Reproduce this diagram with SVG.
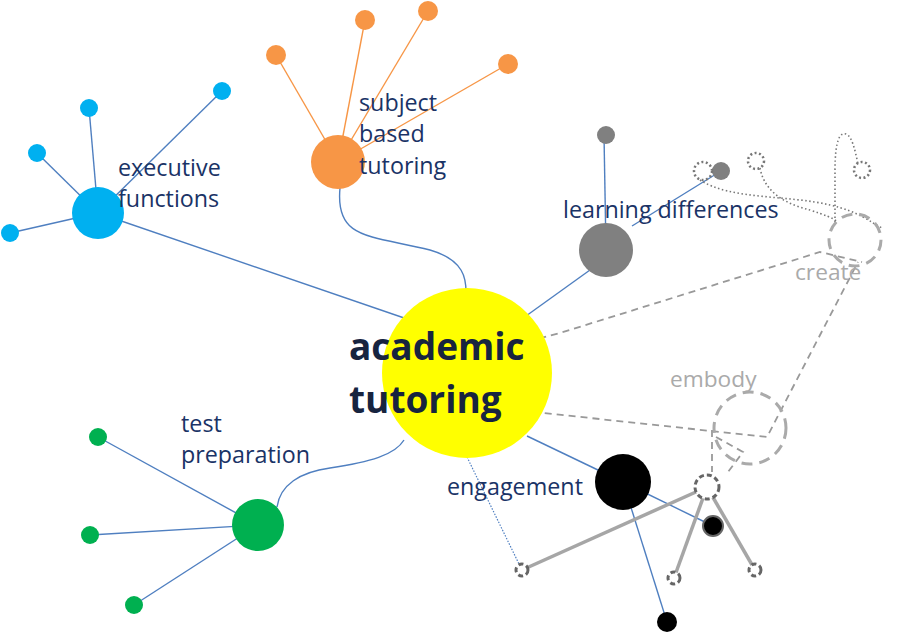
<svg xmlns="http://www.w3.org/2000/svg" width="900" height="635" viewBox="0 0 900 635">
<style>
.lbl{font-family:"Open Sans","Liberation Sans",sans-serif;font-size:23.3px;fill:#1a3366}
.ghost{font-family:"Open Sans","Liberation Sans",sans-serif;font-size:22.7px;fill:#aaaaaa}
.main{font-family:"Open Sans","Liberation Sans",sans-serif;font-size:37px;font-weight:bold;fill:#17243f}
.bl{stroke:#4f7fc0;stroke-width:1.4;fill:none}
.or{stroke:#f79646;stroke-width:1.4;fill:none}
.dash{stroke:#999;stroke-width:1.8;stroke-dasharray:7 5;fill:none}
.dot{stroke:#777;stroke-width:1.6;stroke-dasharray:1.5 2.5;fill:none}
.gl{stroke:#a6a6a6;stroke-width:3.5;fill:none}
.dc{fill:#fff;stroke:#666;stroke-width:3;stroke-dasharray:5 3}
.bigdash{fill:none;stroke:#aaa;stroke-width:3;stroke-dasharray:11 7}
</style>
<g id="connectors">
  <line class="bl" x1="98" y1="213" x2="89" y2="108"/>
  <line class="bl" x1="98" y1="213" x2="222" y2="91"/>
  <line class="bl" x1="98" y1="213" x2="37" y2="153"/>
  <line class="bl" x1="98" y1="213" x2="10" y2="233"/>
  <line class="bl" x1="98" y1="213" x2="410" y2="320"/>
  <line class="or" x1="338" y1="162" x2="276" y2="55"/>
  <line class="or" x1="338" y1="162" x2="365" y2="20"/>
  <line class="or" x1="338" y1="162" x2="428" y2="11"/>
  <line class="or" x1="338" y1="162" x2="508" y2="64"/>
  <path class="bl" d="M340,188 C335,240 370,235 430,250 C465,260 466,280 466,292"/>
  <line class="bl" x1="606" y1="250" x2="604" y2="135"/>
  <line class="bl" x1="632" y1="226" x2="721" y2="171"/>
  <line class="bl" x1="526" y1="316" x2="590" y2="270"/>
  <line class="bl" x1="258" y1="525" x2="98" y2="437"/>
  <line class="bl" x1="258" y1="525" x2="90" y2="535"/>
  <line class="bl" x1="258" y1="525" x2="134" y2="605"/>
  <path class="bl" d="M277,507 C280,485 300,472 330,468 C370,462 395,455 404,440"/>
  <line class="bl" x1="527" y1="436" x2="623" y2="482"/>
  <line class="bl" x1="623" y1="482" x2="713" y2="526"/>
  <line class="bl" x1="623" y1="482" x2="667" y2="622"/>
  <line x1="467" y1="457" x2="519" y2="564" stroke="#4f7fc0" stroke-width="1.2" stroke-dasharray="1.5 1.5"/>
  <line class="gl" x1="707" y1="487" x2="522" y2="570"/>
  <line class="gl" x1="707" y1="487" x2="674" y2="578"/>
  <line class="gl" x1="707" y1="487" x2="755" y2="570"/>
  <path class="dash" d="M422,392 C440,375 450,362 468,358 C490,352 520,343 560,333 L820,252 L862,262"/>
  <path class="dash" d="M497,408 L767,437 L858,262"/>
  <path class="dash" d="M712,430 L712,472"/>
  <path class="dash" d="M716,437 L743,452 L728,472"/>
  <path class="dot" d="M700,180 C730,200 790,195 830,205 C860,212 870,222 882,228"/>
  <path class="dot" d="M760,168 C765,195 790,205 810,210 C825,215 833,218 838,222"/>
  <path class="dot" d="M835,222 L835,170 C835,140 840,132 846,134 C852,136 855,150 858,164"/>
</g>
<g id="n-center"><circle cx="467" cy="373" r="85" fill="#ffff00"/><text class="main" x="349" y="360">academic</text><text class="main" x="349" y="413">tutoring</text></g>
<g id="n-exec"><circle cx="98" cy="213" r="26" fill="#00b0f0"/><circle cx="89" cy="108" r="9" fill="#00b0f0"/><circle cx="222" cy="91" r="9" fill="#00b0f0"/><circle cx="37" cy="153" r="9" fill="#00b0f0"/><circle cx="10" cy="233" r="9" fill="#00b0f0"/><text class="lbl" x="118" y="176">executive</text><text class="lbl" x="118" y="207">functions</text></g>
<g id="n-subject"><circle cx="338" cy="162" r="27" fill="#f79646"/><circle cx="276" cy="55" r="10" fill="#f79646"/><circle cx="365" cy="20" r="10" fill="#f79646"/><circle cx="428" cy="11" r="10" fill="#f79646"/><circle cx="508" cy="64" r="10" fill="#f79646"/><text class="lbl" x="359" y="111">subject</text><text class="lbl" x="359" y="142">based</text><text class="lbl" x="359" y="174">tutoring</text></g>
<g id="n-learning"><circle cx="606" cy="250" r="27" fill="#808080"/><circle cx="606" cy="135" r="9" fill="#808080"/><circle cx="721" cy="171" r="9" fill="#808080"/><text class="lbl" x="563" y="218">learning differences</text></g>
<g id="n-dotted"><circle cx="703" cy="171" r="9" fill="none" stroke="#777" stroke-width="2.5" stroke-dasharray="2 2.5"/><circle cx="756" cy="161" r="8" fill="none" stroke="#777" stroke-width="2.5" stroke-dasharray="2 2.5"/><circle cx="862" cy="170" r="8" fill="none" stroke="#777" stroke-width="2.5" stroke-dasharray="2 2.5"/></g>
<g id="n-create"><circle cx="855" cy="240" r="26" class="bigdash"/><text class="ghost" x="795" y="280">create</text></g>
<g id="n-embody"><circle cx="750" cy="428" r="36" class="bigdash"/><text class="ghost" x="670" y="387">embody</text></g>
<g id="n-test"><circle cx="258" cy="525" r="26" fill="#00b050"/><circle cx="98" cy="437" r="9" fill="#00b050"/><circle cx="90" cy="535" r="9" fill="#00b050"/><circle cx="134" cy="605" r="9" fill="#00b050"/><text class="lbl" x="181" y="432">test</text><text class="lbl" x="181" y="463">preparation</text></g>
<g id="n-engagement"><circle cx="623" cy="482" r="28" fill="#000"/><circle cx="713" cy="526" r="10" fill="#000" stroke="#666" stroke-width="2"/><circle cx="667" cy="622" r="10" fill="#000"/><text class="lbl" x="447" y="495">engagement</text></g>
<g id="n-dashed-small"><circle cx="707" cy="487" r="12" class="dc"/><circle cx="522" cy="570" r="6" class="dc" stroke-width="2.5" stroke-dasharray="4 3"/><circle cx="674" cy="578" r="6" class="dc" stroke-width="2.5" stroke-dasharray="4 3"/><circle cx="755" cy="570" r="6" class="dc" stroke-width="2.5" stroke-dasharray="4 3"/></g>
</svg>
